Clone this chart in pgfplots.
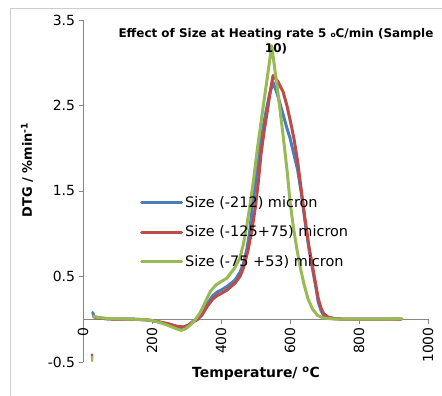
\documentclass[border=0pt]{standalone}
\usepackage{fontspec}
\setmainfont{DejaVu Sans}
\usepackage{pgfplots}
\pgfplotsset{compat=1.18}
\definecolor{sblue}{RGB}{74,126,187}
\definecolor{sred}{RGB}{190,75,72}
\definecolor{sgreen}{RGB}{152,185,84}
\definecolor{axgray}{RGB}{134,134,134}
\begin{document}
\begin{tikzpicture}
\useasboundingbox (0,0) rectangle (442bp,396bp);
\draw[gray!40, line width=0.8bp] (10bp,-2bp) -- (10bp,388bp) -- (445bp,388bp);
\begin{axis}[at={(83bp,34bp)}, anchor=south west, scale only axis,
  width=345bp, height=342bp,
  xmin=0, xmax=1000, ymin=-0.5, ymax=3.5,
  axis y line=left, axis x line=middle,
  axis line style={-, draw=axgray, line width=0.8bp},
  tick style={draw=axgray, line width=0.8bp}, tick align=outside, major tick length=4.5bp,
  hide obscured x ticks=false,
  xtick={0,200,400,600,800,1000}, xticklabels={0,200,400,600,800,1000},
  ytick={-0.5,0.5,1.5,2.5,3.5}, yticklabels={-0.5,0.5,1.5,2.5,3.5},
  xticklabel style={rotate=90, anchor=east, font=\fontsize{14}{16}\selectfont},
  yticklabel style={font=\fontsize{14}{16}\selectfont},
  clip=false,
  legend style={at={(0.165,0.38)}, anchor=west, draw=none, fill=none,
    font=\fontsize{14.5}{17}\selectfont, row sep=13bp, inner sep=0pt,
    cells={anchor=west}},
  legend image code/.code={\draw[#1, line width=3bp] (0bp,0bp) -- (40bp,0bp);},
  every axis plot/.append style={line width=3bp, line join=round, line cap=round},
]
\addplot[sblue] coordinates {
(28,0.08) (32,0.03) (45,0.015) (70,0.005) (100,0.0) (150,0.0) (190,-0.01) (220,-0.03)
(250,-0.06) (275,-0.09) (290,-0.1) (305,-0.07) (320,-0.02) (330,0.0) (340,0.05) (350,0.12)
(365,0.21) (377,0.28) (390,0.32) (400,0.34) (420,0.39) (441,0.46) (455,0.55) (465,0.65)
(475,0.82) (483,1.02) (490,1.28) (500,1.6) (510,1.95) (520,2.2) (530,2.42) (540,2.62)
(551,2.77) (562,2.65) (576,2.45) (590,2.25) (600,2.12) (610,1.95) (622,1.75) (633,1.47)
(643,1.16) (655,0.82) (667,0.55) (675,0.37) (682,0.2) (690,0.1) (697,0.05) (710,0.015)
(730,0.005) (760,0.0) (800,0.0) (850,0.0) (900,0.0) (922,0.0)
};
\addlegendentry{Size (-212) micron}
\addplot[sred] coordinates {
(30,0.03) (45,0.015) (70,0.005) (100,0.0) (150,0.0) (180,-0.005) (200,-0.015) (220,-0.03)
(250,-0.055) (270,-0.08) (290,-0.09) (305,-0.07) (320,-0.03) (333,0.0) (345,0.05) (360,0.15)
(377,0.24) (390,0.28) (400,0.3) (417,0.34) (440,0.42) (455,0.5) (465,0.6) (478,0.8)
(490,1.05) (500,1.32) (508,1.6) (516,1.93) (525,2.2) (535,2.45) (543,2.67) (551,2.85)
(565,2.78) (580,2.66) (591,2.5) (602,2.3) (612,2.1) (622,1.85) (633,1.5) (643,1.19)
(655,0.85) (667,0.58) (675,0.4) (682,0.24) (690,0.13) (697,0.07) (710,0.025) (730,0.008)
(760,0.0) (800,0.0) (850,0.0) (900,0.0) (922,0.0)
};
\addlegendentry{Size (-125+75) micron}
\addplot[sgreen] coordinates {
(30,0.035) (45,0.02) (70,0.01) (100,0.005) (150,0.0) (180,-0.005) (200,-0.015) (220,-0.035)
(245,-0.07) (270,-0.11) (285,-0.13) (298,-0.11) (310,-0.07) (322,-0.02) (330,0.02) (340,0.08)
(350,0.16) (360,0.25) (370,0.33) (385,0.4) (400,0.44) (417,0.48) (430,0.55) (440,0.6)
(455,0.72) (465,0.88) (475,1.1) (485,1.36) (495,1.65) (505,1.98) (520,2.42) (535,2.85)
(547,3.2) (565,2.65) (580,2.15) (592,1.72) (600,1.38) (610,1.07) (620,0.82) (629,0.62)
(640,0.42) (652,0.24) (665,0.12) (680,0.045) (696,0.015) (720,0.005) (760,0.0) (800,0.0)
(850,0.0) (900,0.003) (925,0.005)
};
\addlegendentry{Size (-75 +53) micron}
\addplot[sblue, forget plot, line width=2bp] coordinates {(26,-0.42) (26.5,-0.47)};
\addplot[sred, forget plot, line width=2bp] coordinates {(26,-0.41) (26.5,-0.45)};
\addplot[sgreen, forget plot, line width=2bp] coordinates {(26,-0.44) (26.5,-0.49)};
\end{axis}
\node[font=\bfseries\fontsize{12}{15}\selectfont, align=center] at (276bp,355bp)
  {Effect of Size at Heating rate 5 {\fontsize{7.5}{7.5}\selectfont o}C/min (Sample\\10)};
\node[font=\bfseries\fontsize{13}{15}\selectfont, rotate=90] at (27bp,226bp)
  {DTG / \%min\textsuperscript{-1}};
\node[font=\bfseries\fontsize{14}{16}\selectfont] at (256bp,22bp)
  {Temperature/ \textsuperscript{o}C};
\end{tikzpicture}
\end{document}
